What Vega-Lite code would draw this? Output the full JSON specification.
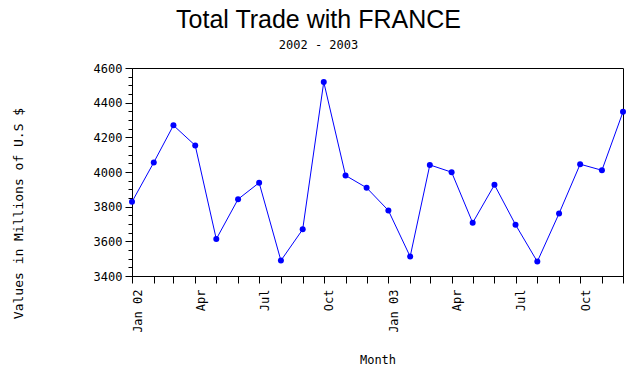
{
  "$schema": "https://vega.github.io/schema/vega-lite/v6.json",
  "width": 491,
  "height": 208,
  "autosize": {"type": "none"},
  "padding": {"left": 132, "top": 68, "right": 13, "bottom": 94},
  "background": "white",
  "title": {
    "text": "Total Trade with FRANCE",
    "subtitle": "2002 - 2003",
    "anchor": "middle",
    "frame": "group",
    "dx": -59,
    "font": "Liberation Sans",
    "fontSize": 25,
    "fontWeight": "normal",
    "color": "black",
    "subtitleFont": "DejaVu Sans Mono",
    "subtitleFontSize": 12,
    "subtitleColor": "black",
    "subtitlePadding": 7,
    "offset": 11
  },
  "config": {
    "view": {"stroke": "black", "strokeWidth": 1},
    "axis": {
      "grid": false,
      "domainColor": "black",
      "domainWidth": 1,
      "tickColor": "black",
      "tickWidth": 1,
      "labelColor": "black",
      "titleColor": "black",
      "labelFont": "DejaVu Sans Mono",
      "titleFont": "DejaVu Sans Mono",
      "labelFontSize": 12,
      "titleFontSize": 12,
      "titleFontWeight": "normal"
    }
  },
  "data": {
    "values": [
      {"month": "2002-01-01", "value": 3828},
      {"month": "2002-02-01", "value": 4055},
      {"month": "2002-03-01", "value": 4269},
      {"month": "2002-04-01", "value": 4153},
      {"month": "2002-05-01", "value": 3613},
      {"month": "2002-06-01", "value": 3843},
      {"month": "2002-07-01", "value": 3938},
      {"month": "2002-08-01", "value": 3489},
      {"month": "2002-09-01", "value": 3669},
      {"month": "2002-10-01", "value": 4519},
      {"month": "2002-11-01", "value": 3980},
      {"month": "2002-12-01", "value": 3909},
      {"month": "2003-01-01", "value": 3778},
      {"month": "2003-02-01", "value": 3512},
      {"month": "2003-03-01", "value": 4041},
      {"month": "2003-04-01", "value": 3999},
      {"month": "2003-05-01", "value": 3707},
      {"month": "2003-06-01", "value": 3926},
      {"month": "2003-07-01", "value": 3696},
      {"month": "2003-08-01", "value": 3483},
      {"month": "2003-09-01", "value": 3761},
      {"month": "2003-10-01", "value": 4045},
      {"month": "2003-11-01", "value": 4010},
      {"month": "2003-12-01", "value": 4347}
    ]
  },
  "encoding": {
    "x": {
      "field": "month",
      "type": "temporal",
      "scale": {"type": "utc", "nice": false},
      "axis": {
        "tickCount": {"interval": "month", "step": 1},
        "labelExpr": "utcmonth(datum.value) == 0 ? utcFormat(datum.value, '%b %y') : (utcmonth(datum.value) % 3 == 0 ? utcFormat(datum.value, '%b') : '')",
        "labelAngle": 270,
        "labelAlign": "right",
        "labelBaseline": "top",
        "labelFlush": false,
        "labelOverlap": false,
        "labelBound": false,
        "tickSize": 7,
        "labelPadding": 6,
        "title": "Month",
        "titleY": 78,
        "titleBaseline": "top"
      }
    },
    "y": {
      "field": "value",
      "type": "quantitative",
      "scale": {"domain": [3400, 4600], "nice": false, "zero": false},
      "axis": {
        "values": [3400, 3450, 3500, 3550, 3600, 3650, 3700, 3750, 3800, 3850, 3900, 3950, 4000, 4050, 4100, 4150, 4200, 4250, 4300, 4350, 4400, 4450, 4500, 4550, 4600],
        "format": "d",
        "labelExpr": "datum.value % 200 == 0 ? datum.label : ''",
        "tickSize": {"condition": {"test": "datum.value % 200 == 0", "value": 7}, "value": 4},
        "labelPadding": 3,
        "labelOverlap": false,
        "labelFlush": false,
        "title": "Values in Millions of U.S $",
        "titleFontSize": 13,
        "titleAngle": 270,
        "titleAlign": "center",
        "titleBaseline": "alphabetic",
        "titleX": -110,
        "titleY": 145
      }
    }
  },
  "layer": [
    {"mark": {"type": "line", "color": "#0000ff", "strokeWidth": 1}},
    {"mark": {"type": "point", "filled": true, "color": "#0000ff", "size": 36, "opacity": 1}}
  ]
}
